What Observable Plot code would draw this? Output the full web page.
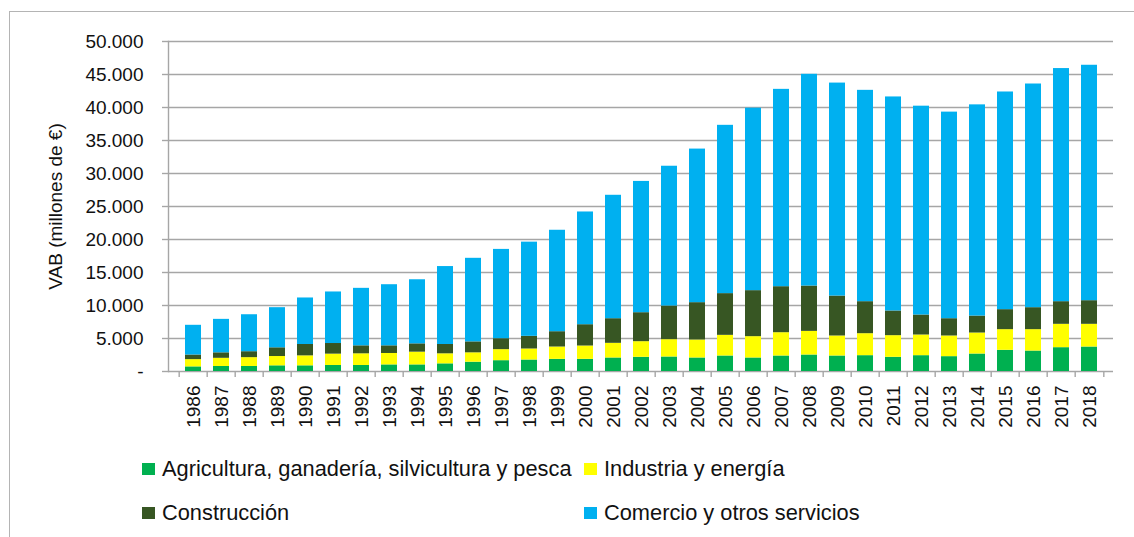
<!DOCTYPE html>
<html>
<head>
<meta charset="utf-8">
<script src="https://cdn.jsdelivr.net/npm/d3@7"></script>
<script src="https://cdn.jsdelivr.net/npm/@observablehq/plot@0.6"></script>
<style>
  html, body { margin: 0; padding: 0; background: #fff; }
  #wrap { position: relative; width: 1134px; height: 537px; overflow: hidden; font-family: "Liberation Sans", Arial, sans-serif; color: #111; }
  #frame { position: absolute; left: 9px; top: 11px; width: 1200px; height: 600px; border: 1px solid #b4b4b4; box-sizing: border-box; }
  #chart { position: absolute; left: 0; top: 0; }
  .leg { position: absolute; height: 26px; line-height: 26px; font-size: 21.8px; white-space: nowrap; display: flex; align-items: center; }
  .sw { display: inline-block; width: 13px; height: 12px; margin-right: 7px; }
</style>
</head>
<body>
<div id="wrap">
  <div id="frame"></div>
  <div id="chart"></div>
  <div id="legend"></div>
</div>
<script>
const years = ["1986","1987","1988","1989","1990","1991","1992","1993","1994","1995","1996","1997","1998","1999","2000","2001","2002","2003","2004","2005","2006","2007","2008","2009","2010","2011","2012","2013","2014","2015","2016","2017","2018"];
const sectors = ["Agricultura, ganadería, silvicultura y pesca", "Industria y energía", "Construcción", "Comercio y otros servicios"];
const sectorColors = ["#00b050", "#ffff00", "#375623", "#00b0f0"];
const agricultura = [700,760,760,860,860,910,910,1000,1000,1160,1410,1640,1740,1840,1840,2050,2150,2200,2050,2350,2050,2350,2500,2350,2400,2150,2400,2250,2650,3210,3100,3610,3710];
const industria = [1100,1240,1340,1410,1510,1720,1770,1730,1930,1520,1420,1670,1670,1870,2020,2220,2370,2620,2720,3130,3230,3530,3580,3030,3330,3280,3130,3130,3180,3130,3240,3540,3440];
const construccion = [700,830,900,1320,1720,1610,1210,1160,1260,1410,1660,1660,1920,2320,3230,3730,4390,5100,5660,6320,6970,6970,6870,6050,4850,3740,3030,2620,2570,3030,3330,3430,3580];
const comercio = [4500,5070,5600,6080,7050,7810,8710,9260,9710,11810,12660,13530,14270,15370,17080,18700,19890,21180,23270,25500,27650,29900,32080,32270,32020,32430,31640,31300,32000,32980,33890,35320,35670];
const yTicks = [0,5000,10000,15000,20000,25000,30000,35000,40000,45000,50000];
const yLabel = "VAB (millones de €)";

const series = [agricultura, industria, construccion, comercio];
const data = years.flatMap((yr, i) => sectors.map((s, k) => ({year: yr, sector: s, value: series[k][i]})));

const W = 1134, H = 440, mL = 168, mR = 21, mT = 41, mB = 69;
const step = (W - mL - mR) / years.length;
const fmt = d => d === 0 ? "-" : d3.format(",")(d).replace(/,/g, ".");
const gray = "#a6a6a6";

const chart = Plot.plot({
  width: W, height: H,
  marginLeft: mL, marginRight: mR, marginTop: mT, marginBottom: mB,
  style: {fontFamily: "Liberation Sans, Arial, sans-serif", fontSize: "19px", background: "transparent", color: "#111", overflow: "visible"},
  x: {domain: years, paddingInner: 0.44, paddingOuter: 0.22, label: null},
  y: {domain: [0, 50000], label: null},
  color: {domain: sectors, range: sectorColors},
  marks: [
    Plot.gridY(yTicks, {stroke: gray, strokeOpacity: 1, strokeWidth: 1.4}),
    Plot.barY(data, {x: "year", y: "value", fill: "sector", order: sectors}),
    Plot.frame({anchor: "left", stroke: gray, strokeWidth: 1.4}),
    Plot.axisY(yTicks, {tickSize: 6, tickFormat: () => "", stroke: gray, strokeWidth: 1.4, label: null}),
    Plot.axisY(yTicks, {tickSize: 0, tickPadding: 25, tickFormat: fmt, fontSize: 19, fill: "#111", label: yLabel, labelAnchor: "center", labelArrow: "none", labelOffset: 120}),
    Plot.axisX({tickSize: 6, tickFormat: () => "", stroke: gray, strokeWidth: 1.4, dx: -step / 2, label: null}),
    Plot.axisX([years[years.length - 1]], {tickSize: 6, tickFormat: () => "", stroke: gray, strokeWidth: 1.4, dx: step / 2, label: null}),
    Plot.axisX({tickSize: 0, tickPadding: 14, tickRotate: -90, fontSize: 19, fill: "#111", label: null})
  ]
});
document.getElementById("chart").appendChild(chart);

// legend
const legendPos = [
  {left: 142, top: 456},
  {left: 584, top: 456},
  {left: 142, top: 500},
  {left: 584, top: 500}
];
const legend = document.getElementById("legend");
sectors.forEach((s, k) => {
  const d = document.createElement("div");
  d.className = "leg";
  d.style.left = legendPos[k].left + "px";
  d.style.top = legendPos[k].top + "px";
  const sw = document.createElement("span");
  sw.className = "sw";
  sw.style.background = sectorColors[k];
  const t = document.createElement("span");
  t.textContent = s;
  d.appendChild(sw);
  d.appendChild(t);
  legend.appendChild(d);
});
</script>
</body>
</html>
